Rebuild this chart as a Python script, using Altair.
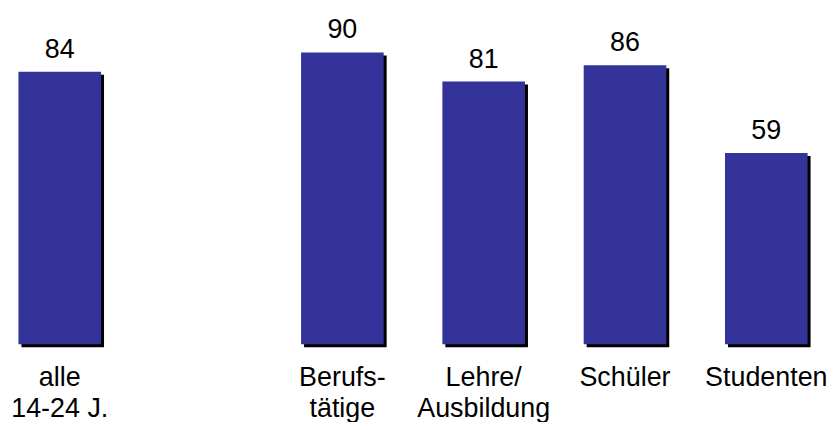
import altair as alt
import pandas as pd

categories = ["alle|14-24 J.", "Berufs-|tätige", "Lehre/|Ausbildung", "Schüler", "Studenten"]
values = [84, 90, 81, 86, 59]
slot_order = ["alle|14-24 J.", " ", "Berufs-|tätige", "Lehre/|Ausbildung", "Schüler", "Studenten"]

df = pd.DataFrame({"cat": categories, "val": values})

FONT = "Liberation Sans"

xenc = alt.X(
    "cat:N",
    sort=slot_order,
    scale=alt.Scale(domain=slot_order, paddingInner=0.4155, paddingOuter=0.074),
    axis=alt.Axis(
        title=None,
        domain=False,
        ticks=False,
        labelAngle=0,
        labelFont=FONT,
        labelFontSize=27,
        labelLineHeight=31,
        labelColor="black",
        labelPadding=20,
        labelExpr="split(datum.label, '|')",
    ),
)
yenc = alt.Y("val:Q", scale=alt.Scale(domain=[0, 100]), axis=None)

base = alt.Chart(df).encode(x=xenc, y=yenc)

shadow = base.mark_bar(color="black", xOffset=3, yOffset=3)
bars = base.mark_bar(color="#333399")
labels = base.mark_text(
    dy=-14, baseline="alphabetic", font=FONT, fontSize=27, color="black"
).encode(text="val:Q")

chart = (
    alt.layer(shadow, bars, labels)
    .properties(
        width=814,
        height=326,
        padding={"left": 0, "top": 7, "right": 0, "bottom": 0},
    )
    .configure_view(stroke=None)
)

chart.save("out.html", embed_options={"renderer": "svg", "actions": False})
